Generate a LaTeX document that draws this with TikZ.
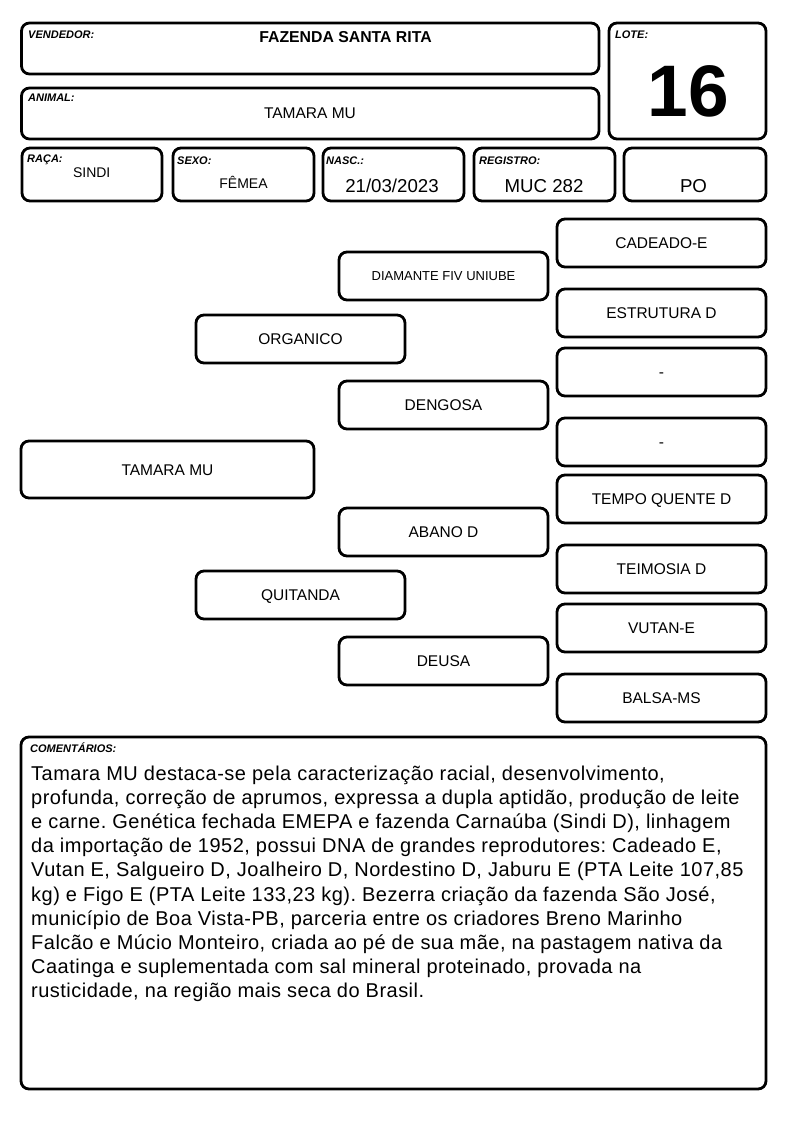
\documentclass[tikz,border=0pt]{standalone}
\usepackage{fontspec}
\setmainfont{Liberation Sans}
\newfontfamily\comfont[LetterSpace=2.4]{Liberation Sans}
\newcommand\fsz[1]{\fontsize{#1}{#1}\selectfont}
\frenchspacing
\tikzset{
  box/.style={draw=black, line width=2.8pt, rounded corners=8pt, inner sep=0pt, fill=white},
  pbox/.style={box, minimum width=209pt, minimum height=48pt, font=\fsz{15.5}, text height=11pt, text depth=0pt},
  lbl/.style={anchor=base west, inner sep=0pt, font=\fsz{11}\bfseries\itshape},
  val/.style={anchor=base, inner sep=0pt, font=\fsz{18.67}},
  cline/.style={anchor=base west, inner sep=0pt, font=\comfont\fsz{20}}
}
\begin{document}
\begin{tikzpicture}[x=1pt,y=-1pt]
\useasboundingbox (0,0) rectangle (794,1123);
% header boxes
\node[box, minimum width=577.5pt, minimum height=51pt] (vend) at (310.25,48.5) {};
\node[box, minimum width=577.5pt, minimum height=51pt] (anim) at (310.25,113.5) {};
\node[box, minimum width=157pt, minimum height=116pt] (lote) at (687.5,81) {};
\node[box, minimum width=140pt, minimum height=53pt] (raca) at (92,174.5) {};
\node[box, minimum width=141pt, minimum height=53pt] (sexo) at (243.5,174.5) {};
\node[box, minimum width=141pt, minimum height=53pt] (nasc) at (393.5,174.5) {};
\node[box, minimum width=141pt, minimum height=53pt] (reg) at (544.5,174.5) {};
\node[box, minimum width=142pt, minimum height=53pt] (po) at (695,174.5) {};
% header labels & values
\node[lbl] (lvend) at (28,39) {VENDEDOR:};
\node[anchor=base, inner sep=0pt, font=\fsz{15.8}\bfseries] (tvend) at (345.5,43) {FAZENDA SANTA RITA};
\node[lbl] (lanim) at (28,102) {ANIMAL:};
\node[anchor=base, inner sep=0pt, font=\fsz{15.5}] (tanim) at (310,119) {TAMARA MU};
\node[lbl] (llote) at (615,39) {LOTE:};
\node[anchor=base, inner sep=0pt, font=\fsz{73}\bfseries] (tlote) at (688,117) {16};
\node[lbl] (lraca) at (27,163) {RAÇA:};
\node[anchor=base, inner sep=0pt, font=\fsz{14}] (traca) at (91.7,178) {SINDI};
\node[lbl] (lsexo) at (177,165) {SEXO:};
\node[anchor=base, inner sep=0pt, font=\fsz{14}] (tsexo) at (243.5,189) {FÊMEA};
\node[lbl] (lnasc) at (326,165) {NASC.:};
\node[val] (tnasc) at (392,193) {21/03/2023};
\node[lbl] (lreg) at (479,165) {REGISTRO:};
\node[val] (treg) at (544,193) {MUC 282};
\node[val] (tpo) at (693.5,193) {PO};
% pedigree
\node[pbox, minimum width=293pt, minimum height=57pt] (p0) at (167.5,469.5) {TAMARA MU};
\node[pbox] (p1) at (300.5,339) {ORGANICO};
\node[pbox] (p2) at (300.5,595) {QUITANDA};
\node[pbox, font=\fsz{13}, text height=9.3pt] (p3) at (443.5,276) {DIAMANTE FIV UNIUBE};
\node[pbox] (p4) at (443.5,405) {DENGOSA};
\node[pbox] (p5) at (443.5,532) {ABANO D};
\node[pbox] (p6) at (443.5,661) {DEUSA};
\node[pbox] (p7) at (661.5,243) {CADEADO-E};
\node[pbox] (p8) at (661.5,313) {ESTRUTURA D};
\node[pbox] (p9) at (661.5,372) {-};
\node[pbox] (p10) at (661.5,442) {-};
\node[pbox] (p11) at (661.5,499) {TEMPO QUENTE D};
\node[pbox] (p12) at (661.5,569) {TEIMOSIA D};
\node[pbox] (p13) at (661.5,628) {VUTAN-E};
\node[pbox] (p14) at (661.5,698) {BALSA-MS};
% comments
\node[box, minimum width=745pt, minimum height=352pt] (com) at (393.5,913) {};
\node[lbl] (lcom) at (30,752) {COMENTÁRIOS:};
\foreach \t [count=\i] in {
 {Tamara MU destaca-se pela caracterização racial, desenvolvimento,},
 {profunda, correção de aprumos, expressa a dupla aptidão, produção de leite},
 {e carne. Genética fechada EMEPA e fazenda Carnaúba (Sindi D), linhagem},
 {da importação de 1952, possui DNA de grandes reprodutores: Cadeado E,},
 {Vutan E, Salgueiro D, Joalheiro D, Nordestino D, Jaburu E (PTA Leite 107,85},
 {kg) e Figo E (PTA Leite 133,23 kg). Bezerra criação da fazenda São José,},
 {município de Boa Vista-PB, parceria entre os criadores Breno Marinho},
 {Falcão e Múcio Monteiro, criada ao pé de sua mãe, na pastagem nativa da},
 {Caatinga e suplementada com sal mineral proteinado, provada na},
 {rusticidade, na região mais seca do Brasil.}}
 \node[cline] (c\i) at (31,{780+24.2*(\i-1)}) {\t};
\end{tikzpicture}
\end{document}
